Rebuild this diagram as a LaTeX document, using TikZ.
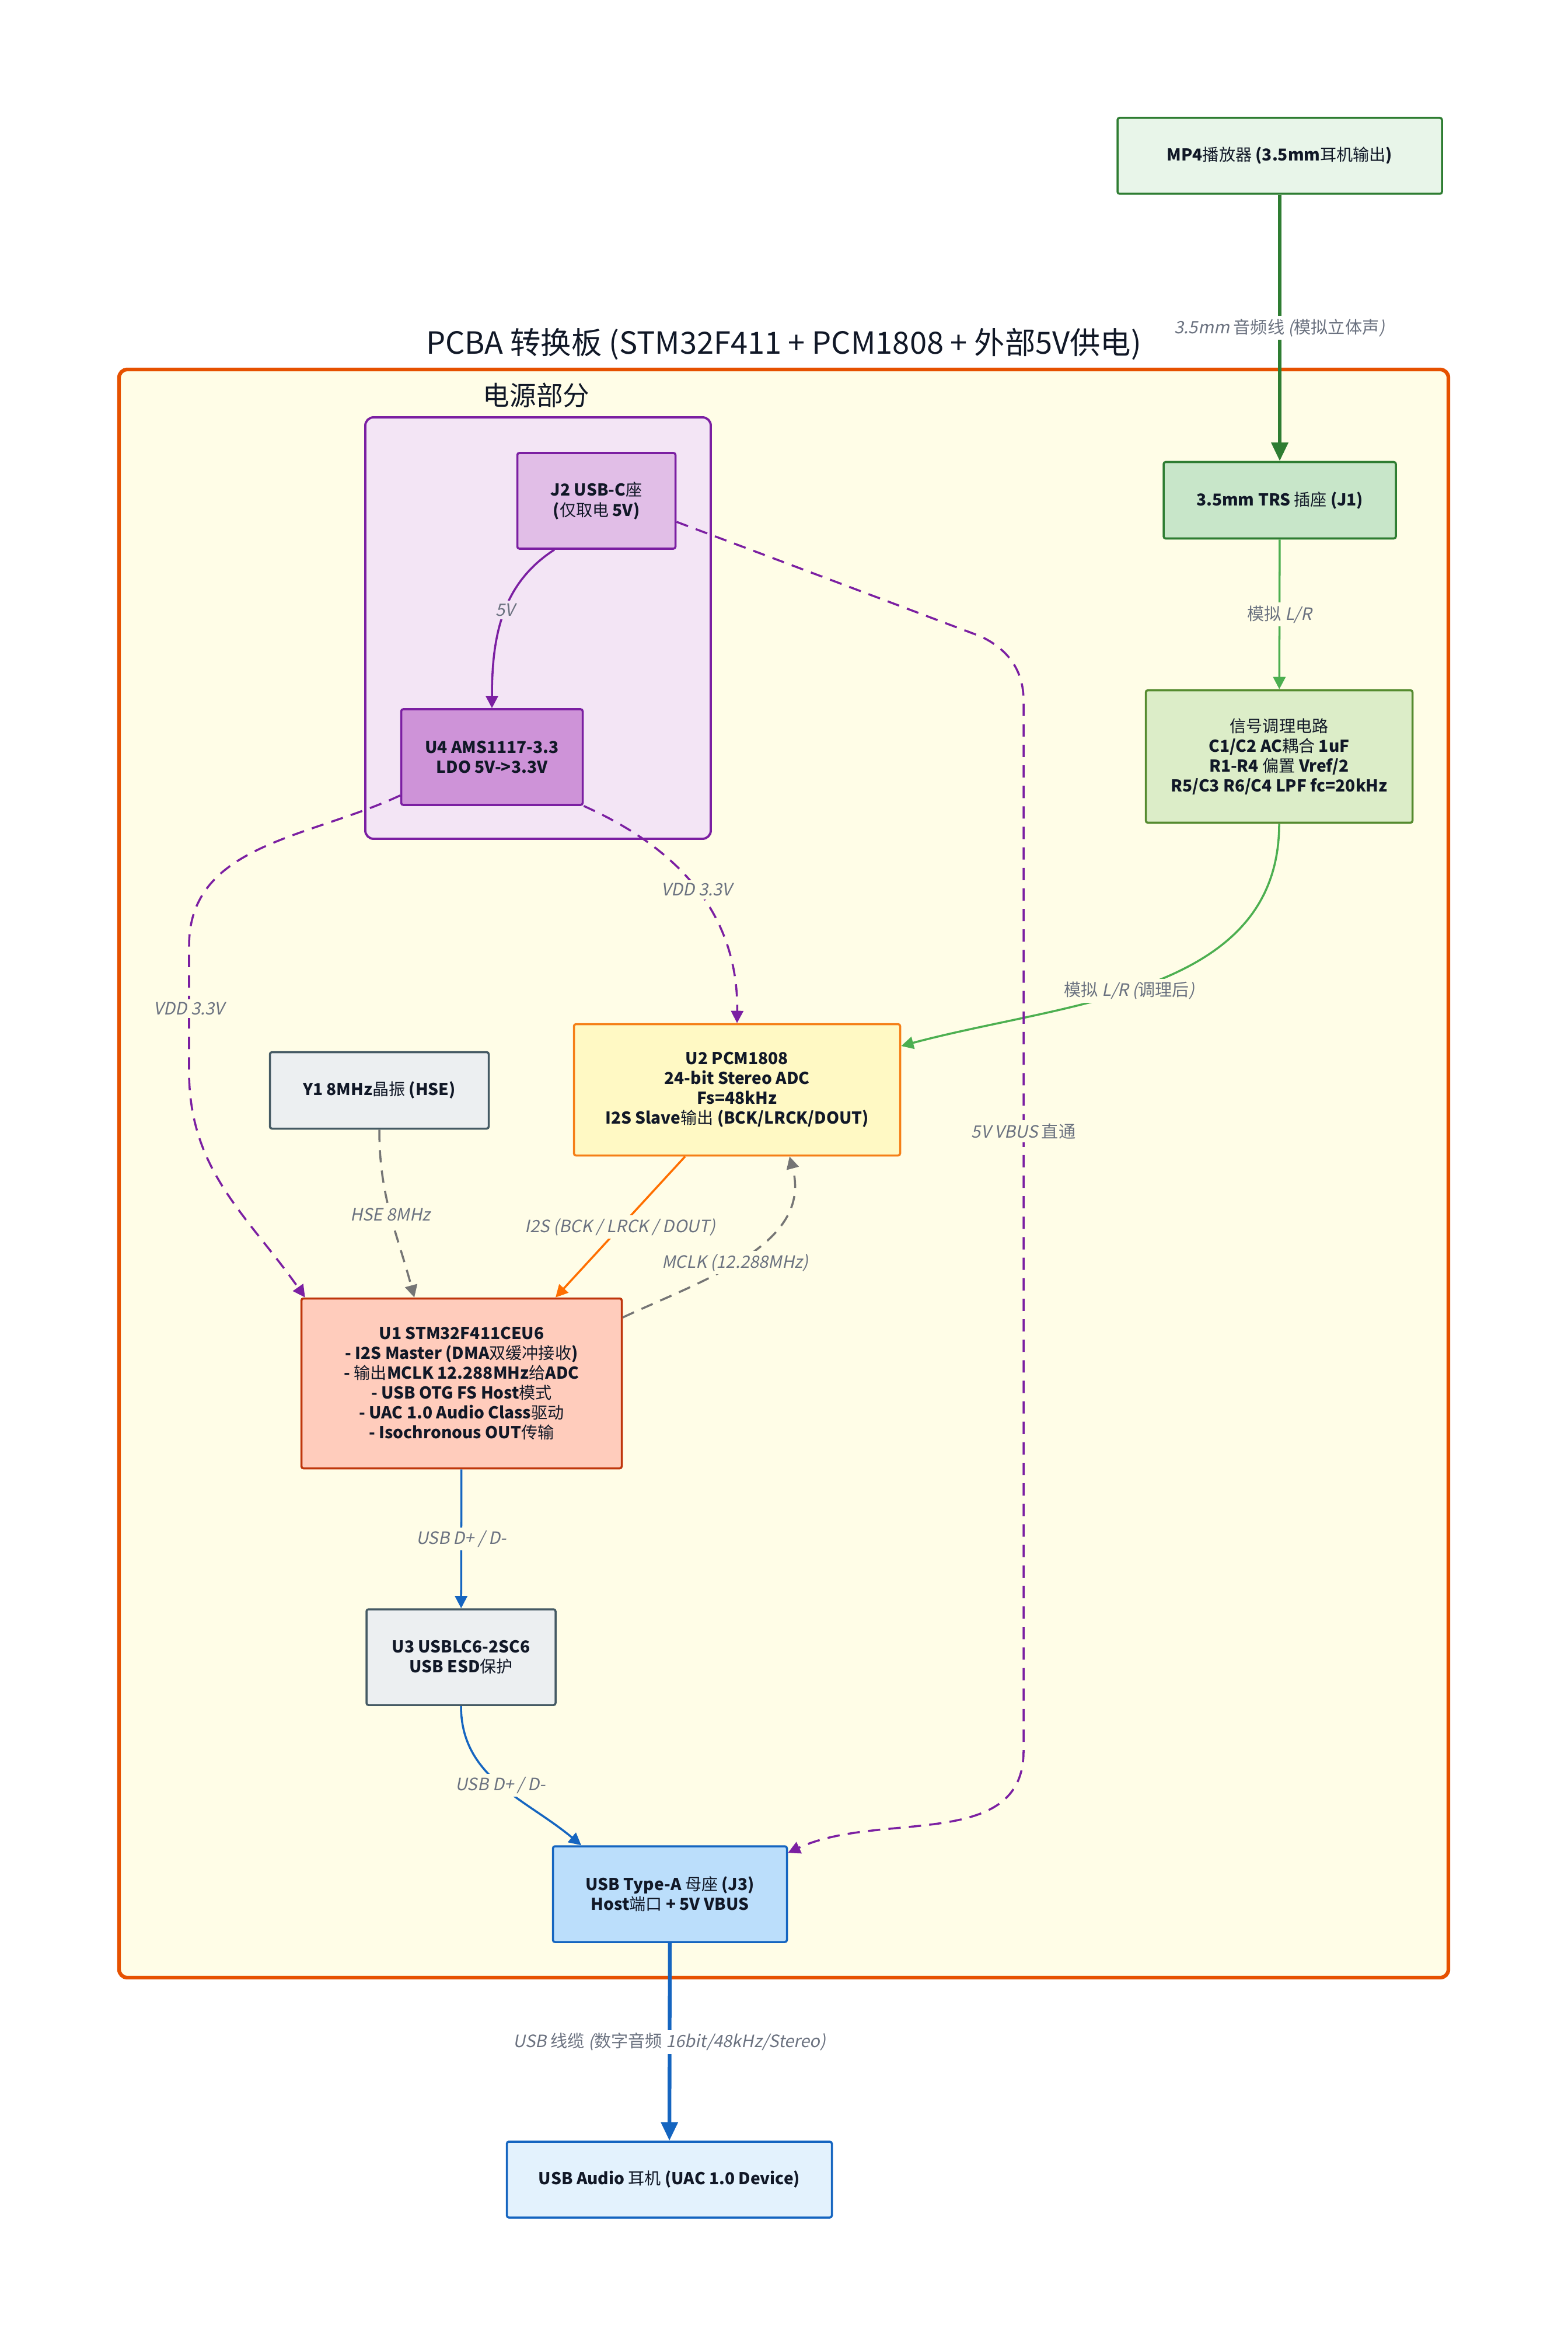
\documentclass[tikz,border=0pt]{standalone}
\usepackage{fontspec}
\setmainfont{Noto Sans CJK SC}
\newfontfamily\zhfont{Noto Sans CJK SC}
\newfontfamily\lblfont{Noto Sans CJK SC}[FakeSlant=0.2]
\usetikzlibrary{arrows.meta,positioning}
% 中文部分用常规字重、不倾斜
\newcommand\zh[1]{{\zhfont\mdseries\upshape #1}}

\definecolor{ink}{HTML}{111827}
\definecolor{lblgray}{HTML}{6B7280}
\definecolor{pcbaedge}{HTML}{E65100}
\definecolor{pcbafill}{HTML}{FFFDE7}
\definecolor{pwredge}{HTML}{7B1FA2}
\definecolor{pwrfill}{HTML}{F3E5F5}
\definecolor{j2fill}{HTML}{E1BEE7}
\definecolor{u4fill}{HTML}{CE93D8}
\definecolor{greendark}{HTML}{2E7D32}
\definecolor{greenlight}{HTML}{4CAF50}
\definecolor{mp4fill}{HTML}{E8F5E9}
\definecolor{j1fill}{HTML}{C8E6C9}
\definecolor{sigedge}{HTML}{558B2F}
\definecolor{sigfill}{HTML}{DCEDC8}
\definecolor{u2edge}{HTML}{F57F17}
\definecolor{u2fill}{HTML}{FFF9C4}
\definecolor{greyedge}{HTML}{455A64}
\definecolor{greyfill}{HTML}{ECEFF1}
\definecolor{u1edge}{HTML}{BF360C}
\definecolor{u1fill}{HTML}{FFCCBC}
\definecolor{usbblue}{HTML}{1565C0}
\definecolor{j3fill}{HTML}{BBDEFB}
\definecolor{hpfill}{HTML}{E3F2FD}
\definecolor{i2sorange}{HTML}{FF6F00}
\definecolor{clkgray}{HTML}{757575}

\tikzset{
  blk/.style={draw, line width=1pt, rounded corners=1pt, align=center, text=ink,
    font=\fontsize{8}{9.7}\selectfont\bfseries, inner sep=2pt},
  lbl/.style={font=\lblfont\fontsize{8.3}{10}\selectfont, text=lblgray, fill=pcbafill, inner sep=1.5pt},
  wire/.style={line width=1pt},
  fatwire/.style={line width=1.8pt, -{Triangle[length=9pt,width=8pt]}},
  pwrdash/.style={wire, draw=pwredge, dash pattern=on 6pt off 4pt},
}

\begin{document}
\begin{tikzpicture}[>={Triangle[length=6pt,width=6pt]}]
  \fill[white] (0,0) rectangle (26.86,-40.02);
  \useasboundingbox (0,0) rectangle (26.86,-40.02);

  % PCBA 板框
  \draw[draw=pcbaedge, fill=pcbafill, line width=1.8pt, rounded corners=4pt] (2.04,-6.33) rectangle (24.82,-33.88);
  \node[font=\fontsize{14.9}{17}\selectfont, text=ink] (title) at (13.43,-5.90) {PCBA 转换板 (STM32F411 + PCM1808 + 外部5V供电)};
  % 电源部分
  \draw[draw=pwredge, fill=pwrfill, line width=1.1pt, rounded corners=4pt] (6.26,-7.15) rectangle (12.18,-14.37);
  \node[font=\fontsize{13}{15}\selectfont, text=ink] (pwrtitle) at (9.19,-6.77) {电源部分};

  % 模块
  \node[blk, fill=mp4fill, draw=greendark, minimum width=5.56cm, minimum height=1.30cm] (mp4) at (21.93,-2.67) {MP4\zh{播放器} (3.5mm\zh{耳机输出})};
  \node[blk, fill=j1fill, draw=greendark, minimum width=3.98cm, minimum height=1.31cm] (j1) at (21.93,-8.57) {3.5mm TRS \zh{插座} (J1)};
  \node[blk, fill=sigfill, draw=sigedge, minimum width=4.57cm, minimum height=2.27cm] (sig) at (21.92,-12.96) {\zh{信号调理电路}\\C1/C2 AC\zh{耦合} 1uF\\R1-R4 \zh{偏置} Vref/2\\R5/C3 R6/C4 LPF fc=20kHz};
  \node[blk, fill=j2fill, draw=pwredge, minimum width=2.71cm, minimum height=1.64cm] (j2) at (10.22,-8.58) {J2 USB-C\zh{座}\\(\zh{仅取电} 5V)};
  \node[blk, fill=u4fill, draw=pwredge, minimum width=3.11cm, minimum height=1.64cm] (u4) at (8.43,-12.97) {U4 AMS1117-3.3\\LDO 5V->3.3V};
  \node[blk, fill=u2fill, draw=u2edge, minimum width=5.59cm, minimum height=2.25cm] (u2) at (12.63,-18.67) {U2 PCM1808\\24-bit Stereo ADC\\Fs=48kHz\\I2S Slave\zh{输出} (BCK/LRCK/DOUT)};
  \node[blk, fill=greyfill, draw=greyedge, minimum width=3.75cm, minimum height=1.31cm] (y1) at (6.50,-18.68) {Y1 8MHz\zh{晶振} (HSE)};
  \node[blk, fill=u1fill, draw=u1edge, minimum width=5.49cm, minimum height=2.91cm] (u1) at (7.91,-23.70) {U1 STM32F411CEU6\\- I2S Master (DMA\zh{双缓冲接收})\\- \zh{输出}MCLK 12.288MHz\zh{给}ADC\\- USB OTG FS Host\zh{模式}\\- UAC 1.0 Audio Class\zh{驱动}\\- Isochronous OUT\zh{传输}};
  \node[blk, fill=greyfill, draw=greyedge, minimum width=3.24cm, minimum height=1.64cm] (u3) at (7.90,-28.39) {U3 USBLC6-2SC6\\USB ESD\zh{保护}};
  \node[blk, fill=j3fill, draw=usbblue, minimum width=4.01cm, minimum height=1.64cm] (j3) at (11.48,-32.45) {USB Type-A \zh{母座} (J3)\\Host\zh{端口} + 5V VBUS};
  \node[blk, fill=hpfill, draw=usbblue, minimum width=5.57cm, minimum height=1.30cm] (hp) at (11.47,-37.34) {USB Audio \zh{耳机} (UAC 1.0 Device)};

  % 模拟信号
  \draw[fatwire, draw=greendark] (mp4) -- node[lbl, fill=white] {3.5mm \zh{音频线} (\zh{模拟立体声})} (j1);
  \draw[wire, ->, draw=greenlight] (j1) -- node[lbl] {\zh{模拟} L/R} (sig);
  \draw[wire, ->, draw=greenlight] (sig.south) to[out=-90,in=15] node[lbl, pos=0.55] {\zh{模拟} L/R (\zh{调理后})} ([yshift=0.75cm]u2.east);

  % 电源
  \draw[wire, ->, draw=pwredge] ([xshift=-0.72cm]j2.south) .. controls (8.6,-10.0) and (8.43,-10.9) .. node[lbl, fill=pwrfill, pos=0.47] {5V} (u4.north);
  \draw[pwrdash, ->] (u4.south east) .. controls (12.0,-14.7) and (12.65,-16.0) .. node[lbl, pos=0.45] {VDD 3.3V} (u2.north);
  \coordinate (vddA) at (3.24,-16.2);
  \coordinate (vddB) at (3.24,-18.36);
  \draw[pwrdash, ->] ([yshift=0.18cm]u4.south west) to[out=-155,in=90] (vddA) -- node[lbl] {VDD 3.3V} (vddB) to[out=-90,in=125] ([xshift=0.08cm]u1.north west);
  \coordinate (vbus0) at (16.8,-10.9);
  \coordinate (vbus1) at (17.54,-12.0);
  \coordinate (vbus2) at (17.54,-30.0);
  \draw[pwrdash, ->] ([yshift=-0.36cm]j2.east) -- (vbus0) to[out=-25,in=90] (vbus1) -- node[lbl, pos=0.41] {5V VBUS \zh{直通}} (vbus2) to[out=-90,in=25] ([yshift=-0.13cm]j3.north east);

  % 时钟与 I2S
  \draw[wire, ->, draw=clkgray, dash pattern=on 6pt off 4pt] (y1.south) to[out=-90,in=105] node[lbl, pos=0.5] {HSE 8MHz} ([xshift=-0.81cm]u1.north);
  \draw[wire, ->, draw=i2sorange] ([xshift=-0.89cm]u2.south) -- node[lbl] {I2S (BCK / LRCK / DOUT)} ([xshift=1.61cm]u1.north);
  \draw[wire, ->, draw=clkgray, dash pattern=on 6pt off 4pt] ([yshift=1.13cm]u1.east) to[out=25,in=-75] node[lbl, pos=0.45] {MCLK (12.288MHz)} ([xshift=0.9cm]u2.south);

  % USB
  \draw[wire, ->, draw=usbblue] (u1) -- node[lbl] {USB D+ / D-} (u3);
  \draw[wire, ->, draw=usbblue] (u3.south) to[out=-90,in=140] node[lbl, pos=0.5] {USB D+ / D-} ([xshift=-1.52cm]j3.north);
  \draw[fatwire, draw=usbblue] (j3) -- node[lbl, fill=white] {USB \zh{线缆} (\zh{数字音频} 16bit/48kHz/Stereo)} (hp);
\end{tikzpicture}
\end{document}
